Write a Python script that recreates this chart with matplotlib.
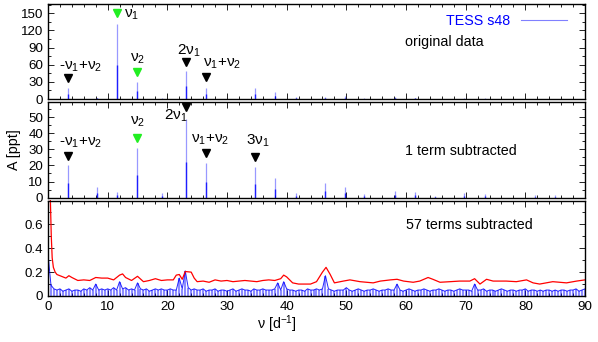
import numpy as np
import matplotlib
matplotlib.use("Agg")
import matplotlib.pyplot as plt
from matplotlib.ticker import MultipleLocator

plt.rcParams['font.family'] = ['Liberation Sans', 'DejaVu Sans']
plt.rcParams['mathtext.fontset'] = 'custom'
plt.rcParams['mathtext.rm'] = 'Liberation Sans'
plt.rcParams['mathtext.it'] = 'Liberation Sans'

# peaks in the original amplitude spectrum [d^-1], [ppt]
orig_freq = [3.42, 8.15, 11.55, 14.97, 19.1, 23.1, 26.52, 34.65, 38.07, 41.6,
             46.5, 49.8, 53.0, 58.1, 61.5, 69.8, 73.2]
orig_amp = [19.0, 2.5, 132.0, 30.0, 1.5, 49.0, 20.0, 18.6, 11.7, 4.0,
            4.0, 4.5, 1.0, 3.0, 2.0, 1.5, 1.0]

# peaks after prewhitening with nu1
pw1_freq = [3.42, 8.15, 11.55, 14.97, 19.1, 23.1, 26.52, 34.65, 38.07, 41.6,
            46.5, 49.8, 53.0, 58.1, 61.5, 64.8, 69.8, 73.2, 81.6, 84.9]
pw1_amp = [20.0, 6.5, 3.7, 30.7, 3.0, 48.5, 21.3, 19.3, 12.0, 3.0,
           9.0, 6.8, 2.0, 4.4, 3.5, 1.0, 3.0, 2.0, 1.5, 1.5]

# residual spectrum after 57 terms, 0.5 d^-1 steps from 0 to 90
resid_amp = [
    0.35, 0.09, 0.06, 0.05, 0.06, 0.04, 0.05, 0.06, 0.04, 0.05, 0.05,
    0.04, 0.06, 0.05, 0.07, 0.05, 0.10, 0.05, 0.06, 0.05, 0.06,
    0.05, 0.07, 0.05, 0.12, 0.06, 0.07, 0.05, 0.06, 0.05, 0.11,
    0.06, 0.05, 0.06, 0.04, 0.05, 0.06, 0.05, 0.06, 0.05, 0.05,
    0.06, 0.05, 0.05, 0.15, 0.06, 0.21, 0.07, 0.05, 0.06, 0.05,
    0.05, 0.06, 0.04, 0.05, 0.05, 0.06, 0.04, 0.05, 0.05, 0.04,
    0.05, 0.06, 0.04, 0.05, 0.06, 0.05, 0.05, 0.04, 0.06, 0.05,
    0.05, 0.06, 0.05, 0.05, 0.05, 0.06, 0.11, 0.05, 0.12, 0.06,
    0.05, 0.05, 0.04, 0.05, 0.05, 0.04, 0.06, 0.05, 0.05, 0.06,
    0.05, 0.06, 0.17, 0.06, 0.05, 0.04, 0.05, 0.05, 0.05, 0.07,
    0.05, 0.04, 0.05, 0.06, 0.05, 0.04, 0.05, 0.05, 0.06, 0.05,
    0.04, 0.05, 0.05, 0.06, 0.05, 0.05, 0.10, 0.05, 0.04, 0.05,
    0.06, 0.05, 0.04, 0.05, 0.05, 0.06, 0.05, 0.04, 0.05, 0.05,
    0.06, 0.05, 0.04, 0.05, 0.05, 0.04, 0.05, 0.06, 0.05, 0.05,
    0.05, 0.04, 0.10, 0.05, 0.05, 0.06, 0.04, 0.05, 0.05, 0.04,
    0.05, 0.06, 0.05, 0.04, 0.05, 0.05, 0.04, 0.05, 0.05, 0.06,
    0.04, 0.05, 0.05, 0.04, 0.05, 0.04, 0.05, 0.05, 0.04, 0.05,
    0.04, 0.05, 0.05, 0.04, 0.05, 0.05, 0.06, 0.04, 0.05, 0.06]
resid_freq = 0.5 * np.arange(len(resid_amp))

# noise level (red)
noise_freq = [0, 0.4, 0.55, 0.7, 0.9, 1.2, 1.5, 2, 3, 3.5, 4, 5, 6, 7, 8, 9, 10, 11,
              12, 12.5, 13, 14, 15, 16, 17, 18, 19, 20, 21, 21.5, 22, 22.5, 23,
              24, 24.5, 25, 26, 27, 28, 29, 30, 31, 32, 33, 34, 35, 36, 37, 38,
              39, 39.5, 40, 41, 42, 44, 45, 46, 46.6, 47.3, 48, 49.5, 50.6, 52.3,
              54.5, 55.7, 57.4, 58.5, 59.6, 61.2, 62.3, 63.7, 64.5, 65.7, 67.4,
              69, 70.7, 71.5, 72.4, 73.5, 74.6, 76.8, 78.5, 80.2, 81.3, 82.4,
              84.6, 86.9, 88.6, 90]
noise_lvl = [0.9, 0.8, 0.5, 0.32, 0.24, 0.2, 0.18, 0.17, 0.15, 0.17, 0.155, 0.13,
             0.135, 0.13, 0.155, 0.15, 0.15, 0.135, 0.175, 0.185, 0.155, 0.13,
             0.165, 0.12, 0.13, 0.145, 0.13, 0.135, 0.135, 0.175, 0.18, 0.14,
             0.205, 0.2, 0.15, 0.12, 0.125, 0.115, 0.135, 0.125, 0.13, 0.12,
             0.125, 0.13, 0.125, 0.12, 0.13, 0.135, 0.13, 0.145, 0.175, 0.16,
             0.11, 0.1, 0.1, 0.12, 0.2, 0.24, 0.18, 0.11, 0.125, 0.135, 0.12,
             0.11, 0.125, 0.135, 0.14, 0.125, 0.115, 0.125, 0.155, 0.14, 0.115,
             0.12, 0.125, 0.125, 0.145, 0.1, 0.14, 0.125, 0.125, 0.12, 0.135,
             0.11, 0.1, 0.12, 0.11, 0.125, 0.135]

# labels: (text, x, y, marker y, marker x, colour)
top_marks = [("-ν$_1$+ν$_2$", 5.4, 56, 36, 3.42, 'black'),
             ("ν$_1$", 14.0, 147, 150, 11.55, '#22ee22'),
             ("ν$_2$", 14.97, 71, 47, 14.97, '#22ee22'),
             ("2ν$_1$", 23.6, 85, 65, 23.1, 'black'),
             ("ν$_1$+ν$_2$", 29.1, 62, 39, 26.52, 'black')]
mid_marks = [("-ν$_1$+ν$_2$", 5.4, 34, 26, 3.42, 'black'),
             ("ν$_2$", 14.97, 47, 37, 14.97, '#22ee22'),
             ("2ν$_1$", 21.4, 51, 56, 23.1, 'black'),
             ("ν$_1$+ν$_2$", 27.1, 36, 28, 26.52, 'black'),
             ("3ν$_1$", 35.2, 35, 25.5, 34.65, 'black')]

W, H = 598, 342
fig = plt.figure(figsize=(W / 100, H / 100), dpi=100)
left, width = 48 / W, 537 / W
ax1 = fig.add_axes([left, 1 - 99 / H, width, 95.5 / H])
ax2 = fig.add_axes([left, 1 - 197.7 / H, width, 96 / H], sharex=ax1)
ax3 = fig.add_axes([left, 1 - 296 / H, width, 95.5 / H], sharex=ax1)

blue = '#0000ff'
fs = 10.3
tfs = 9.6
lfs = 11


def spikes(ax, f, a):
    f = np.asarray(f)
    a = np.asarray(a)
    ax.vlines(f, 0, a, color=blue, lw=0.9, alpha=0.4)
    ax.vlines(f, 0, a * 0.45, color=blue, lw=1.0, alpha=0.8)


spikes(ax1, orig_freq, orig_amp)
spikes(ax2, pw1_freq, pw1_amp)
ax1.plot([], [], color='#8080ff', lw=0.8, label='TESS s48')

ax3.vlines(resid_freq, 0, resid_amp, color=blue, lw=1.5, alpha=0.45)
ax3.plot(resid_freq, resid_amp, color=blue, lw=0.7, alpha=0.85)
ax3.plot(noise_freq, noise_lvl, color='#ff0000', lw=0.9)

for ax, marks in ((ax1, top_marks), (ax2, mid_marks)):
    for txt, tx, ty, my, mx, col in marks:
        ax.text(tx, ty, txt, ha='center', va='center', fontsize=lfs)
        ax.plot(mx, my, marker='v', color=col, ms=5.5, ls='none', clip_on=False)

ax1.text(66.5, 100, 'original data', ha='center', va='center', fontsize=fs)
ax2.text(69.2, 29, '1 term subtracted', ha='center', va='center', fontsize=fs)
ax3.text(70.6, 0.595, '57 terms subtracted', ha='center', va='center', fontsize=fs)

leg = ax1.legend(loc='upper right', bbox_to_anchor=(0.985, 0.99), frameon=False,
                 markerfirst=False, fontsize=fs, handlelength=3.2,
                 labelcolor=blue, borderpad=0.2, handletextpad=0.8)

ax1.set_ylim(0, 167)
ax1.yaxis.set_major_locator(MultipleLocator(30))
ax1.yaxis.set_minor_locator(MultipleLocator(15))
ax2.set_ylim(0, 59.5)
ax2.yaxis.set_major_locator(MultipleLocator(10))
ax2.yaxis.set_minor_locator(MultipleLocator(5))
ax3.set_ylim(0, 0.8)
ax3.set_yticks([0, 0.2, 0.4, 0.6])
ax3.set_yticklabels(['0', '0.2', '0.4', '0.6'])
ax3.yaxis.set_minor_locator(MultipleLocator(0.1))
ax3.set_xlim(0, 90)
ax3.xaxis.set_major_locator(MultipleLocator(10))
ax3.xaxis.set_minor_locator(MultipleLocator(2))

for ax in (ax1, ax2, ax3):
    ax.tick_params(which='both', direction='in', top=True, right=True,
                   labelsize=tfs, width=0.6)
    ax.tick_params(which='major', length=4)
    ax.tick_params(which='minor', length=2)
    for s in ax.spines.values():
        s.set_linewidth(1.0)
for ax in (ax1, ax2):
    ax.tick_params(labelbottom=False)

fig.text(14 / W, 1 - 150 / H, 'A [ppt]', rotation=90, ha='center', va='center',
         fontsize=fs)
fig.text(277 / W, 1 - 324 / H, 'ν [d$^{-1}$]', ha='center', va='center', fontsize=fs)

fig.savefig('out.png', dpi=100)
